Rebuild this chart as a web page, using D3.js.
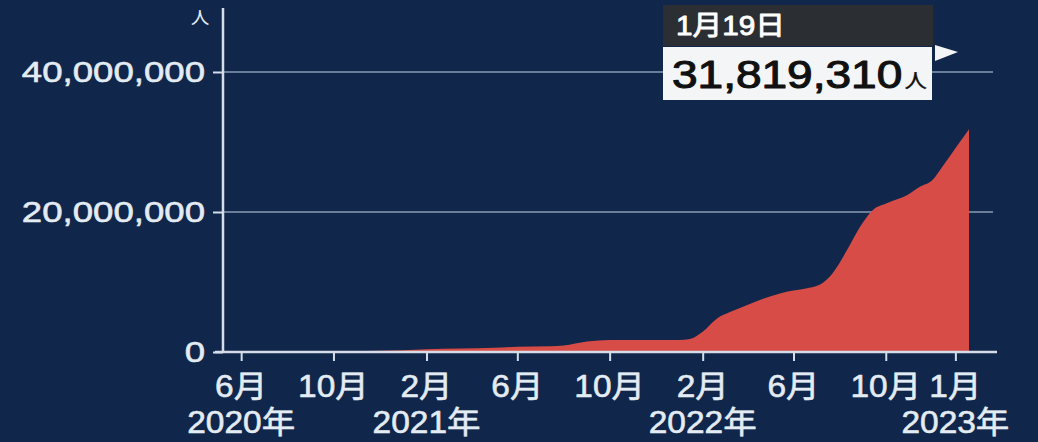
<!DOCTYPE html>
<html><head><meta charset="utf-8">
<script src="https://cdn.jsdelivr.net/npm/d3@7"></script>
<style>
html,body{margin:0;padding:0;background:#10264a;}
svg{display:block;}
</style></head>
<body>
<svg id="c" width="1038" height="442"></svg>
<script>
// ---- data ----
const dates = ["2020-05-08","2020-10-01","2021-01-01","2021-02-01","2021-05-01","2021-06-01","2021-07-15","2021-08-01","2021-09-01","2021-10-01","2022-01-01","2022-01-15","2022-02-01","2022-02-20","2022-03-09","2022-04-01","2022-04-22","2022-05-23","2022-06-19","2022-07-10","2022-07-23","2022-08-11","2022-08-28","2022-09-14","2022-10-03","2022-10-29","2022-11-15","2022-12-02","2022-12-15","2023-01-01","2023-01-19"];
const values = [16000,85000,235000,390000,600000,750000,830000,930000,1500000,1710000,1730000,1860000,2900000,4800000,5700000,6700000,7600000,8600000,9100000,9900000,11300000,14600000,17900000,20300000,21300000,22400000,23600000,24600000,26500000,29100000,31819310];
const yTicks = [0, 20000000, 40000000];
const xTickDates = ["2020-06-01","2020-10-01","2021-02-01","2021-06-01","2021-10-01","2022-02-01","2022-06-01","2022-10-01","2023-01-01"];
const xTickLabels = ["6月","10月","2月","6月","10月","2月","6月","10月","1月"];
const yearDates = ["2020-06-01","2021-02-01","2022-02-01","2023-01-01"];
const yearLabels = ["2020年","2021年","2022年","2023年"];
const unitLabel = "人";
const calloutDate = "1月19日";
const calloutValue = 31819310;

// ---- setup ----
const parse = d3.timeParse("%Y-%m-%d");
const svg = d3.select("#c");
const FONT = "'Liberation Sans','Noto Sans CJK JP',sans-serif";
const textCol = "#e3ebf3";

svg.append("rect").attr("width",1038).attr("height",442).attr("fill","#10264a");

const x = d3.scaleTime().domain([parse("2020-05-08"), parse("2023-02-25")]).range([223, 997]);
const y = d3.scaleLinear().domain([0, 49140000]).range([352, 8]);

// gridlines
svg.append("g").selectAll("line").data(yTicks.filter(v=>v>0)).join("line")
  .attr("x1",223).attr("x2",993).attr("y1",d=>y(d)).attr("y2",d=>y(d))
  .attr("stroke","#8a9cb4").attr("stroke-width",1.5);

// area
const data = dates.map((d,i)=>({date:parse(d), value:values[i]}));
const area = d3.area().x(d=>x(d.date)).y0(y(0)).y1(d=>y(d.value)).curve(d3.curveMonotoneX);
svg.append("path").datum(data).attr("d",area).attr("fill","#d74c47");

// y axis
const yAxis = svg.append("g").attr("transform","translate(223,0)")
  .call(d3.axisLeft(y).tickValues(yTicks).tickSize(10).tickSizeOuter(0).tickFormat(""));
yAxis.select(".domain").remove();
yAxis.selectAll(".tick line").attr("stroke","#d5dee8").attr("stroke-width",2);
svg.append("line").attr("x1",223).attr("x2",223).attr("y1",y.range()[1]).attr("y2",y(0)+1)
  .attr("stroke","#d5dee8").attr("stroke-width",2.5);

function thick(sel, col, w){
  return sel.attr("stroke",col).attr("stroke-width",w).attr("paint-order","stroke").attr("stroke-linejoin","round");
}

thick(svg.append("g").selectAll("text").data(yTicks).join("text")
  .attr("transform",d=>`translate(205,${y(d)+10}) scale(1.22,1)`)
  .attr("text-anchor","end").attr("fill",textCol)
  .style("font-family",FONT).style("font-size","30px")
  .text(d=>d3.format(",")(d)), textCol, 0.6);

svg.append("text").attr("transform","translate(200,24) scale(1.1,1)")
  .attr("text-anchor","middle").attr("fill",textCol)
  .style("font-family",FONT).style("font-size","17px").text(unitLabel);

// x axis
const xAxis = svg.append("g").attr("transform",`translate(0,${y(0)})`)
  .call(d3.axisBottom(x).tickValues(xTickDates.map(parse)).tickSize(9).tickSizeOuter(0).tickFormat(""));
xAxis.select(".domain").remove();
xAxis.selectAll(".tick line").attr("stroke","#d5dee8").attr("stroke-width",2);
svg.append("line").attr("x1",215).attr("x2",997).attr("y1",y(0)).attr("y2",y(0))
  .attr("stroke","#d5dee8").attr("stroke-width",2.5);

thick(svg.append("g").selectAll("text").data(xTickDates).join("text")
  .attr("transform",d=>`translate(${x(parse(d))},397) scale(1.08,1)`)
  .attr("text-anchor","middle").attr("fill",textCol)
  .style("font-family",FONT).style("font-size","31px")
  .text((d,i)=>xTickLabels[i]), textCol, 0.6);

thick(svg.append("g").selectAll("text").data(yearDates).join("text")
  .attr("transform",d=>`translate(${x(parse(d))},433) scale(1.08,1)`)
  .attr("text-anchor","middle").attr("fill",textCol)
  .style("font-family",FONT).style("font-size","31px")
  .text((d,i)=>yearLabels[i]), textCol, 0.6);

// callout
const co = svg.append("g");
co.append("rect").attr("x",663).attr("y",5).attr("width",270).attr("height",41).attr("fill","#2b2f34");
co.append("rect").attr("x",663).attr("y",47).attr("width",269).attr("height",53).attr("fill","#f3f5f7");
co.append("path").attr("d","M935,45 L958,52 L935,61 Z").attr("fill","#f3f5f7");
thick(co.append("text").attr("transform",`translate(676,35) scale(1.1,1)`)
  .attr("fill","#ffffff").style("font-family",FONT).style("font-size","27px")
  .text(calloutDate), "#ffffff", 0.9);
const vt = co.append("text").attr("transform",`translate(672,88) scale(1.18,1)`)
  .attr("fill","#111111").style("font-family",FONT).style("font-size","39px");
thick(vt, "#111111", 1.1);
vt.append("tspan").text(d3.format(",")(calloutValue));
vt.append("tspan").style("font-size","19px").attr("dx",2).attr("stroke-width",0.4).text(unitLabel);
</script>
</body></html>
